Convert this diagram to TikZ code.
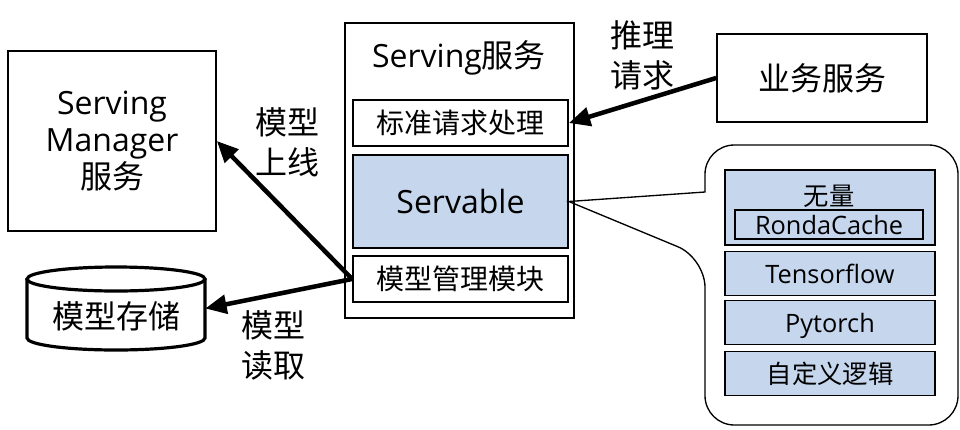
\documentclass[tikz,border=0pt]{standalone}
\usepackage{fontspec}
\setmainfont{Open Sans}
\newfontfamily\cjk{Noto Sans CJK SC}
\usetikzlibrary{arrows.meta}
\definecolor{svblue}{RGB}{197,214,237}
\begin{document}
\begin{tikzpicture}[x=0.75pt,y=-0.75pt,line join=miter,
	box/.style={draw,line width=1.3pt,inner sep=0pt},
	bluebox/.style={box,fill=svblue},
	fat/.style={line width=3.4pt,-{Triangle[length=16pt,width=14pt]}},
	big/.style={font=\fontsize{24}{28}\selectfont,text height=19pt,text depth=1pt},
	mid/.style={font=\fontsize{21}{25}\selectfont,text height=16.8pt,text depth=0.8pt},
	small/.style={font=\fontsize{19}{22}\selectfont,text height=15.2pt,text depth=0.8pt},
	lbl/.style={align=center,font=\fontsize{24}{30}\selectfont\cjk}]
	\useasboundingbox (0,0) rectangle (960,429);
	
	% left side
	\node[draw,line width=1.3pt,font=\fontsize{24}{28}\selectfont,align=center,minimum width=156pt,minimum height=135pt] (mgr) at (112,141) {Serving\\Manager\\{\cjk 服务}};
	\node[big,minimum width=133.5pt,minimum height=62.25pt] (store) at (116,308.5) {\raisebox{-6pt}[\height][\depth]{\cjk 模型存储}};
	\draw[line width=2.4pt] (116,279) ellipse [x radius=89,y radius=12];
	\draw[line width=2.4pt] (27,279) -- (27,338) arc[start angle=180,end angle=0,x radius=89,y radius=12] -- (205,279);
	
	% serving box
	\node[draw,line width=1.3pt,minimum width=171.75pt,minimum height=221.25pt] (sv) at (459.5,170.5) {};
	\node[big] (svt) at (459,55) {Serving{\cjk 服务}};
	\node[box,mid,minimum width=161.25pt,minimum height=34.5pt] (std) at (460.5,123) {\cjk 标准请求处理};
	\node[bluebox,big,minimum width=161.25pt,minimum height=69.75pt] (sva) at (460.5,201.5) {Servable};
	\node[box,mid,minimum width=161.25pt,minimum height=34.5pt] (mgmt) at (460.5,279) {\cjk 模型管理模块};
	
	\node[box,big,minimum width=157.5pt,minimum height=66pt] (biz) at (822,78) {\cjk 业务服务};
	
	% callout
	\draw[line width=1pt,rounded corners=22pt] (705,192) -- (705,145) -- (958,145) -- (958,425) -- (705,425) -- (705,258) [sharp corners] -- (sva.east) -- cycle;
	\node[bluebox,minimum width=157.5pt,minimum height=56.25pt] (wl) at (830,207.5) {};
	\node[small] (wlt) at (829,196) {\cjk 无量};
	\node[box,small,minimum width=141pt,minimum height=21.75pt] (rc) at (829,224.5) {RondaCache};
	\node[bluebox,small,minimum width=157.5pt,minimum height=33pt] (tf) at (830,273.5) {Tensorflow};
	\node[bluebox,small,minimum width=157.5pt,minimum height=33pt] (pt) at (830,322.5) {Pytorch};
	\node[bluebox,small,minimum width=157.5pt,minimum height=33pt] (zdy) at (830,373.5) {\cjk 自定义逻辑};
	
	% arrows
	\draw[fat] (biz.west) -- (std.east);
	\draw[fat] (mgmt.west) -- (mgr.east);
	\draw[fat] (mgmt.west) -- (store.east);
	\node[lbl] (up) at (287,142) {模型\\上线};
	\node[lbl] (rd) at (273,345) {模型\\读取};
	\node[lbl] (inf) at (642,55) {推理\\请求};
\end{tikzpicture}
\end{document}
